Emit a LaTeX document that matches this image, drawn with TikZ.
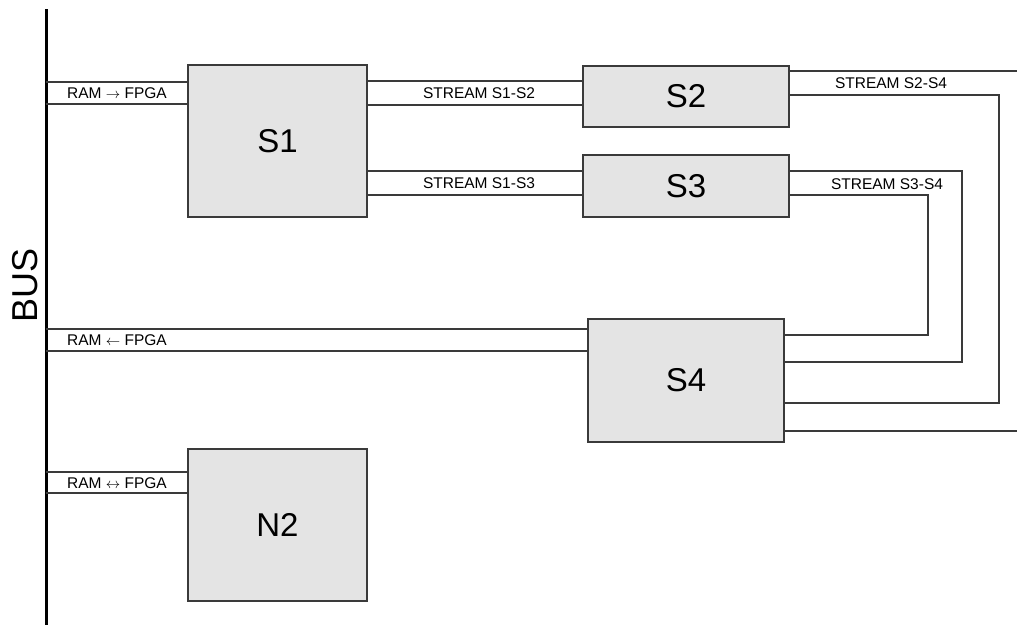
\documentclass[tikz,border=0pt]{standalone}
\usepackage{fontspec}
\setmainfont{Liberation Sans}
\usepackage{xcolor}
\usepackage{tikz}

\definecolor{boxgray}{HTML}{E4E4E4}
\definecolor{wiregray}{HTML}{3A3A3A}

\begin{document}
\begin{tikzpicture}[x=1pt,y=-1pt,
		block/.style={draw=wiregray,fill=boxgray,line width=1.2pt,anchor=north west,inner sep=0pt,outer sep=0pt,font=\fontsize{33}{40}\selectfont},
		wire/.style={draw=wiregray,line width=1.2pt},
		lbl/.style={font=\fontsize{15.5}{18}\selectfont,inner sep=0pt}]
				\useasboundingbox (0,0) rectangle (1017,625);

				\coordinate (bustop) at (46,9);
				\coordinate (busbot) at (46,625);
				\draw[line width=3pt] (bustop) -- (busbot);
				\node[rotate=90,font=\fontsize{36}{40}\selectfont] (buslbl) at (25,285) {BUS};

				\node[block,minimum width=179pt,minimum height=152pt] (s1) at (188,65) {S1};
				\node[block,minimum width=206pt,minimum height=61pt] (s2) at (583,66) {S2};
				\node[block,minimum width=206pt,minimum height=62pt] (s3) at (583,155) {S3};
				\node[block,minimum width=196pt,minimum height=123pt] (s4) at (588,319) {S4};
				\node[block,minimum width=179pt,minimum height=152pt] (n2) at (188,449) {N2};

				\coordinate (edge1) at (1017,71);
				\coordinate (edge2) at (1017,431);

				\draw[wire] (bustop |- 0,82) -- (s1.west |- 0,82);
				\draw[wire] (bustop |- 0,104) -- (s1.west |- 0,104);
				\node[lbl] (ramin) at (117,93) {RAM $\rightarrow$ FPGA};

				\draw[wire] (s1.east |- 0,81) -- (s2.west |- 0,81);
				\draw[wire] (s1.east |- 0,105) -- (s2.west |- 0,105);
				\node[lbl] (st12) at (479,93) {STREAM S1-S2};

				\draw[wire] (s1.east |- 0,171) -- (s3.west |- 0,171);
				\draw[wire] (s1.east |- 0,195) -- (s3.west |- 0,195);
				\node[lbl] (st13) at (479,183) {STREAM S1-S3};

				\draw[wire] (s2.east |- 0,71) -- (edge1);
				\draw[wire] (s2.east |- 0,95) -| (999,403) -- (s4.east |- 0,403);
				\node[lbl] (st24) at (891,83) {STREAM S2-S4};

				\draw[wire] (s3.east |- 0,171) -| (962,362) -- (s4.east |- 0,362);
				\draw[wire] (s3.east |- 0,195) -| (928,335) -- (s4.east |- 0,335);
				\node[lbl] (st34) at (887,184) {STREAM S3-S4};

				\draw[wire] (s4.east |- 0,431) -- (edge2);

				\draw[wire] (bustop |- 0,329) -- (s4.west |- 0,329);
				\draw[wire] (bustop |- 0,351) -- (s4.west |- 0,351);
				\node[lbl] (ramout) at (117,340) {RAM $\leftarrow$ FPGA};

				\draw[wire] (bustop |- 0,472) -- (n2.west |- 0,472);
				\draw[wire] (bustop |- 0,493) -- (n2.west |- 0,493);
				\node[lbl] (ramio) at (117,483) {RAM $\leftrightarrow$ FPGA};
			\end{tikzpicture}
\end{document}
